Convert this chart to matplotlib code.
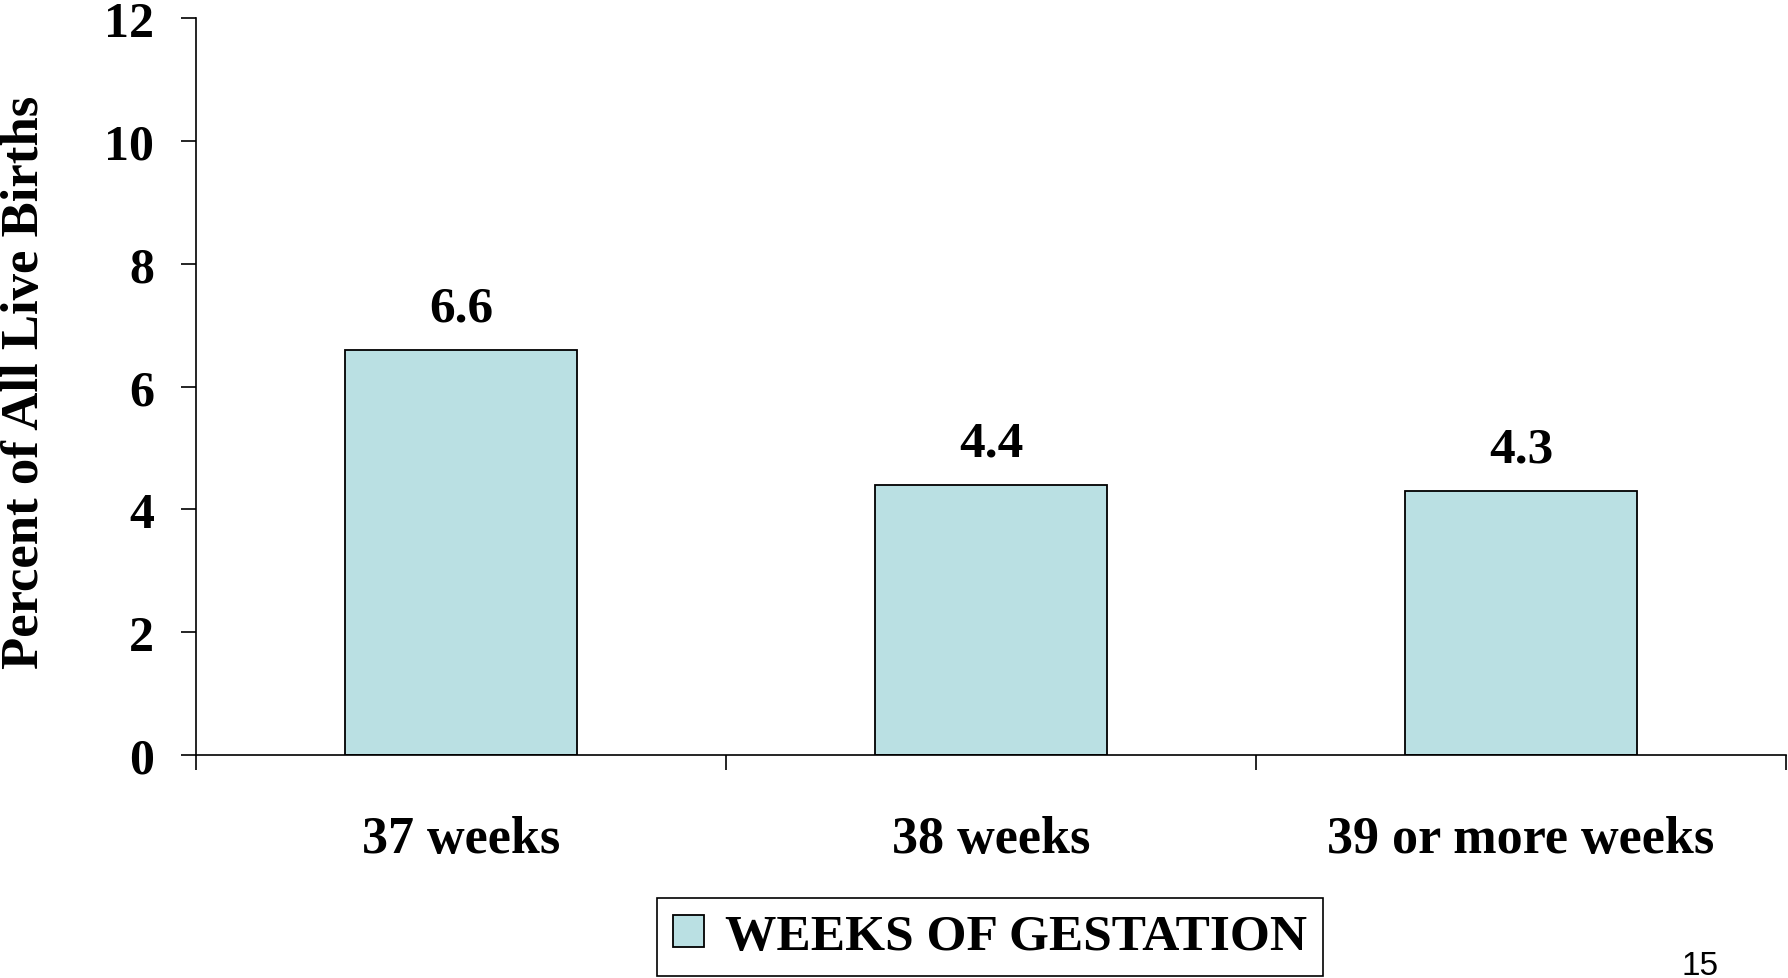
import matplotlib
matplotlib.use("Agg")
import matplotlib.pyplot as plt
import numpy as np

categories = ["37 weeks", "38 weeks", "39 or more weeks"]
values = [6.6, 4.4, 4.3]
series_name = "WEEKS OF GESTATION"
y_ticks = [0, 2, 4, 6, 8, 10, 12]

plt.rcParams['font.family'] = ['Liberation Serif', 'DejaVu Serif']
plt.rcParams['font.weight'] = 'bold'

fig = plt.figure(figsize=(17.88, 9.79), dpi=100)
ax = fig.add_axes([196 / 1788, 1 - 756 / 979, (1786 - 196) / 1788, (756 - 19) / 979])

x = np.arange(len(categories))
rects = ax.bar(x, values, width=0.437, color="#bae0e3", edgecolor="black",
               linewidth=1.3, label=series_name)
ax.bar_label(rects, labels=[f"{v:.1f}" for v in values], padding=13,
             fontsize=37, fontweight='bold')

ax.set_xlim(-0.5, len(categories) - 0.5)
ax.set_ylim(0, 12)
ax.set_yticks(y_ticks)
ax.set_yticklabels([str(t) for t in y_ticks], fontsize=36, fontweight='bold')

# labels at the centres, tick marks at the category boundaries
ax.set_xticks(x)
ax.set_xticklabels(categories, fontsize=37.5, fontweight='bold')
ax.set_xticks(np.arange(len(categories) + 1) - 0.5, minor=True)
ax.tick_params(axis='x', which='major', length=0, pad=43)
ax.tick_params(axis='x', which='minor', length=11, width=1.2, direction='out')
ax.tick_params(axis='y', length=11, width=1.2, direction='out', pad=19)

for side in ['top', 'right']:
    ax.spines[side].set_visible(False)
for side in ['left', 'bottom']:
    ax.spines[side].set_linewidth(1.2)

fig.text(25 / 1788, 1 - 382 / 979, "Percent of All Live Births", rotation=90,
         ha='center', va='center', fontsize=38, fontweight='bold')

leg = fig.legend(loc='center', bbox_to_anchor=(990 / 1788, 1 - 938 / 979),
                 fontsize=37, frameon=True, fancybox=False, edgecolor='black',
                 framealpha=1, handlelength=0.6, handleheight=0.6,
                 handletextpad=0.4, borderpad=0.32, borderaxespad=0)
leg.get_frame().set_linewidth(1.2)

fig.text(1700 / 1788, 1 - 975 / 979, "15", ha='center', va='baseline',
         fontsize=24, fontweight='normal', family='Liberation Sans')

fig.savefig("out.png", dpi=100)
